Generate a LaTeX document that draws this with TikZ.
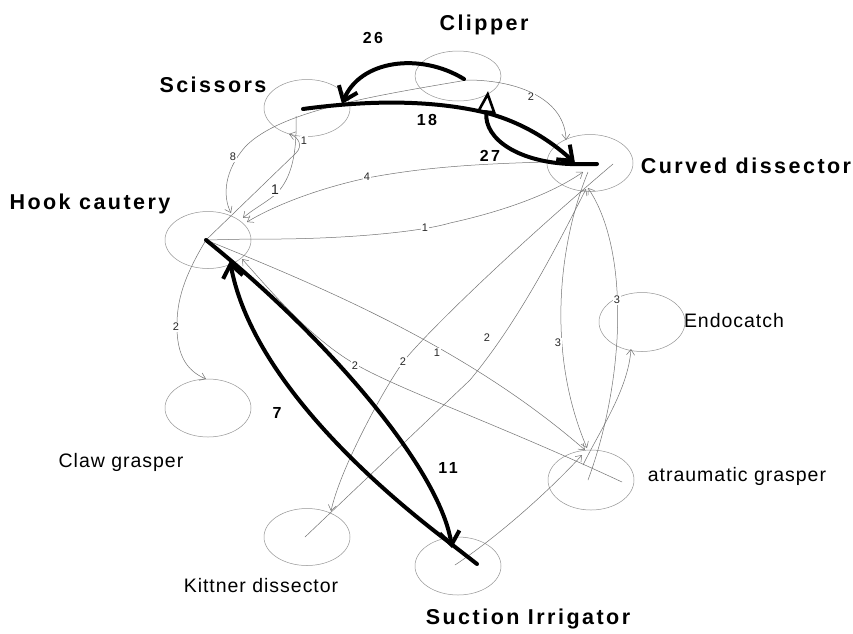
\documentclass[tikz,border=0pt]{standalone}
\usepackage{fontspec}
\setmainfont{Liberation Sans}
\newfontfamily\bigf[LetterSpace=11.5]{Liberation Sans}
\newfontfamily\midf[LetterSpace=5]{Liberation Sans}
\newfontfamily\numf[LetterSpace=15]{Liberation Sans}
\usetikzlibrary{shapes.geometric,arrows.meta}
\begin{document}
\begin{tikzpicture}[x=1pt,y=-1pt,
 ell/.style={draw=black!42, line width=0.5pt, ellipse, inner sep=0pt, minimum width=86pt, minimum height=57pt},
 nlab/.style={font=\bigf\bfseries\fontsize{21.5}{24}\selectfont, anchor=base, inner sep=0pt},
 slab/.style={font=\midf\fontsize{19.5}{22}\selectfont, anchor=base, inner sep=0pt},
 heavy/.style={line width=4pt, line cap=round, line join=round, -{Straight Barb[length=13pt,width=20pt]}},
 wnum/.style={font=\numf\bfseries\fontsize{16}{18}\selectfont, anchor=base, inner sep=0pt},
 fine/.style={draw=black!55, line width=0.5pt, -{Straight Barb[length=5.5pt,width=8pt]}},
 elab/.style={font=\fontsize{11}{12}\selectfont, fill=white, inner sep=0.8pt, text=black!85},
]
\fill[white] (0,0) rectangle (853,633);
\useasboundingbox (0,0) rectangle (853,633);

% nodes (ellipses)
\node[ell, minimum height=50pt] (clip) at (458,76) {};
\node[ell] (sci) at (307,108) {};
\node[ell] (cd) at (590,163) {};
\node[ell] (hook) at (208,240) {};
\node[ell, minimum height=58pt] (claw) at (208,408) {};
\node[ell] (kit) at (307,537) {};
\node[ell, minimum height=58pt] (suc) at (458,566) {};
\node[ell, minimum height=60pt] (atr) at (591,480) {};
\node[ell, minimum height=59pt] (endo) at (642,322) {};

% node labels
\node[nlab] (tclip) at (484,30) {Clipper};
\node[nlab] (tsci) at (213,92) {Scissors};
\node[nlab] (tcd) at (746,173) {Curved dissector};
\node[nlab] (thook) at (90,209) {Hook cautery};
\node[nlab] (tsuc) at (528,624) {Suction Irrigator};
\node[slab] (tendo) at (734,327) {Endocatch};
\node[slab] (tatr) at (737,481) {atraumatic grasper};
\node[slab] (tclaw) at (121,467) {Claw grasper};
\node[slab] (tkit) at (261,592) {Kittner dissector};

% connector end points
\coordinate (clipT) at (467,80);
\coordinate (clipT26) at (464,79);
\coordinate (clipH27) at (488,91);
\coordinate (sciT18) at (303,109);
\coordinate (sciH26) at (342,104);
\coordinate (sciT4) at (296,116);
\coordinate (sciH3) at (289,134);
\coordinate (cdT27) at (597,164);
\coordinate (cdH18) at (575,163);
\coordinate (cdH1) at (566,140);
\coordinate (cdT5) at (547,162);
\coordinate (cdH6) at (583,172);
\coordinate (cdT10) at (613,164);
\coordinate (cdH11) at (586,189);
\coordinate (cdT13) at (588,172);
\coordinate (cdH14) at (588,188);
\coordinate (hookT) at (206,240);
\coordinate (hookH7) at (230,261);
\coordinate (hookH2) at (231,213);
\coordinate (hookH4) at (243,218);
\coordinate (hookH5) at (247,222);
\coordinate (hookH9) at (242,259);
\coordinate (clawH) at (206,379);
\coordinate (kitT) at (305,537);
\coordinate (kitH) at (331,511);
\coordinate (sucT) at (455,565);
\coordinate (sucT7) at (477,564);
\coordinate (sucH11) at (452,548);
\coordinate (atrT9) at (622,482);
\coordinate (atrT14) at (588,480);
\coordinate (atrT15) at (583,465);
\coordinate (atrH8) at (585,450);
\coordinate (atrH12) at (582,455);
\coordinate (atrH13) at (587,448);
\coordinate (endoH) at (631,349);

% thin connectors
\draw[fine] (clipT) .. controls (520,80) and (565,100) .. (cdH1);
\draw[fine] (clipT) .. controls (380,95) and (280,110) .. (245,147) .. controls (225,170) and (222,195) .. (hookH2);
\draw[fine] (hookT) -- (296,153) .. controls (303,146) and (299,137) .. (sciH3);
\draw[fine] (sciT4) .. controls (297,150) and (293,178) .. (275,195) .. controls (262,205) and (252,210) .. (hookH4);
\draw[fine] (cdT5) .. controls (470,164) and (420,168) .. (367,178) .. controls (320,188) and (275,205) .. (hookH5);
\draw[fine] (hookT) -- (250,239) .. controls (340,240) and (420,232) .. (450,223) .. controls (500,212) and (550,195) .. (cdH6);
\draw[fine] (hookT) .. controls (185,275) and (176,300) .. (177,330) .. controls (178,360) and (190,372) .. (clawH);
\draw[fine] (hookT) .. controls (330,290) and (470,350) .. (atrH8);
\draw[fine] (atrT9) .. controls (500,425) and (400,390) .. (355,364) .. controls (310,338) and (270,290) .. (hookH9);
\draw[fine] (cdT10) .. controls (500,260) and (420,340) .. (403,362) .. controls (380,395) and (340,470) .. (kitH);
\draw[fine] (kitT) -- (470,380) .. controls (520,320) and (560,240) .. (cdH11);
\draw[fine] (sucT) .. controls (500,535) and (550,490) .. (atrH12);
\draw[fine] (cdT13) .. controls (560,240) and (545,350) .. (atrH13);
\draw[fine] (atrT14) .. controls (625,380) and (630,250) .. (cdH14);
\draw[fine] (atrT15) .. controls (600,430) and (628,390) .. (endoH);

% thick connectors
\draw[heavy] (clipT26) .. controls (420,52) and (360,60) .. (sciH26);
\draw[heavy] (sciT18) .. controls (370,100) and (430,100) .. (483,112) .. controls (520,121) and (550,140) .. (cdH18);
\draw[line width=4pt, line cap=round, line join=round, -{Triangle[open,length=22pt,width=19pt,line width=2.6pt]}] (cdT27) -- (570,164) .. controls (520,162) and (484,140) .. (clipH27);
\draw[heavy] (hookT) .. controls (330,340) and (440,470) .. (sucH11);
\draw[heavy] (sucT7) -- (450,543) .. controls (360,475) and (250,370) .. (hookH7);

% thin labels
\node[elab] (l1) at (531,97) {2};
\node[elab] (l2) at (233,157) {8};
\node[elab] (l3) at (304,141) {1};
\node[elab, font=\fontsize{14}{15}\selectfont] (l4) at (275,190) {1};
\node[elab] (l5) at (367,177) {4};
\node[elab] (l6) at (425,228) {1};
\node[elab] (l7) at (176,327) {2};
\node[elab] (l8) at (355,366) {2};
\node[elab] (l9) at (403,362) {2};
\node[elab] (l10) at (437,353) {1};
\node[elab] (l11) at (487,338) {2};
\node[elab] (l12) at (558,343) {3};
\node[elab] (l13) at (617,300) {3};

% thick labels
\node[wnum] (n26) at (373,43) {26};
\node[wnum] (n18) at (427,125) {18};
\node[wnum] (n27) at (490,161) {27};
\node[wnum] (n11) at (448,473) {11};
\node[wnum] (n7) at (277,418) {7};
\end{tikzpicture}
\end{document}
